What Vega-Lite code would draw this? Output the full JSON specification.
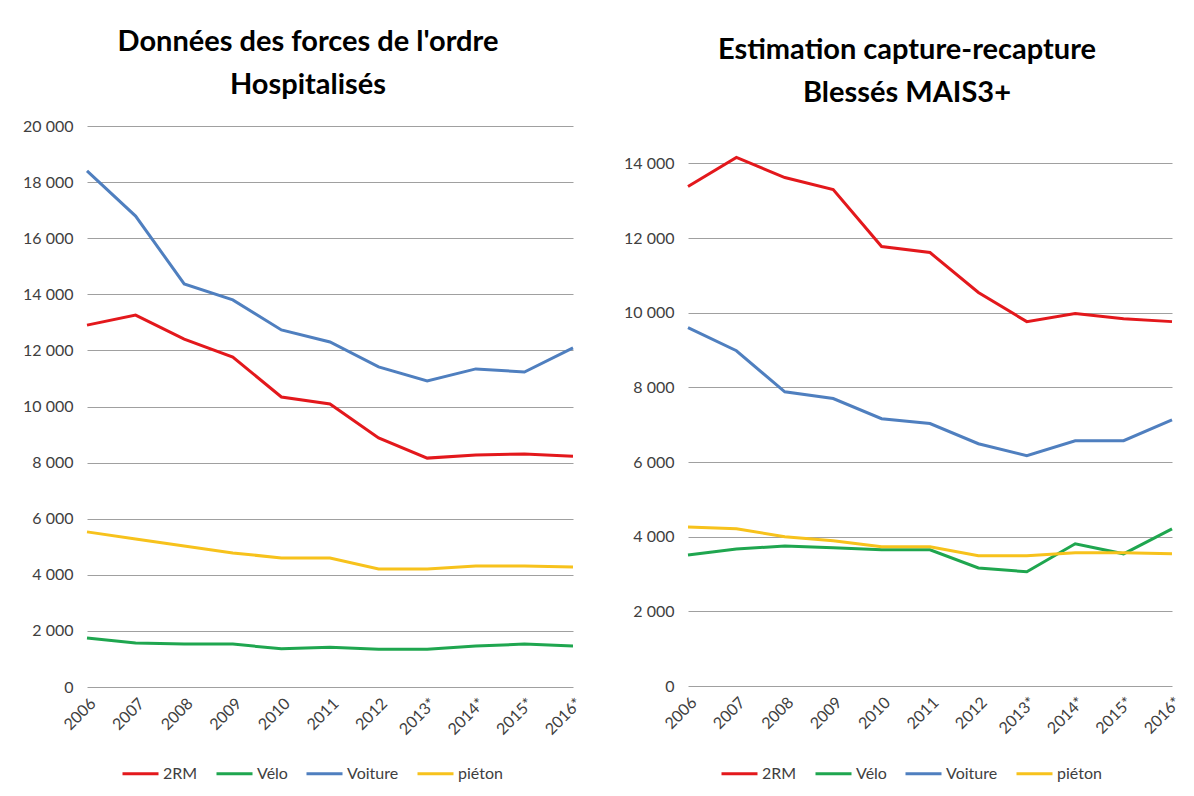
{
  "$schema": "https://vega.github.io/schema/vega-lite/v6.json",
  "background": "white",
  "padding": {"left": 22, "top": 28, "right": 5, "bottom": 5},
  "datasets": {
    "fo": [
      {"year": "2006", "mode": "2RM", "value": 12900}, {"year": "2007", "mode": "2RM", "value": 13260}, {"year": "2008", "mode": "2RM", "value": 12400}, {"year": "2009", "mode": "2RM", "value": 11760}, {"year": "2010", "mode": "2RM", "value": 10340}, {"year": "2011", "mode": "2RM", "value": 10090}, {"year": "2012", "mode": "2RM", "value": 8880}, {"year": "2013*", "mode": "2RM", "value": 8160}, {"year": "2014*", "mode": "2RM", "value": 8270}, {"year": "2015*", "mode": "2RM", "value": 8310}, {"year": "2016*", "mode": "2RM", "value": 8230},
      {"year": "2006", "mode": "Vélo", "value": 1750}, {"year": "2007", "mode": "Vélo", "value": 1570}, {"year": "2008", "mode": "Vélo", "value": 1530}, {"year": "2009", "mode": "Vélo", "value": 1530}, {"year": "2010", "mode": "Vélo", "value": 1360}, {"year": "2011", "mode": "Vélo", "value": 1420}, {"year": "2012", "mode": "Vélo", "value": 1350}, {"year": "2013*", "mode": "Vélo", "value": 1350}, {"year": "2014*", "mode": "Vélo", "value": 1460}, {"year": "2015*", "mode": "Vélo", "value": 1530}, {"year": "2016*", "mode": "Vélo", "value": 1460},
      {"year": "2006", "mode": "Voiture", "value": 18400}, {"year": "2007", "mode": "Voiture", "value": 16790}, {"year": "2008", "mode": "Voiture", "value": 14370}, {"year": "2009", "mode": "Voiture", "value": 13800}, {"year": "2010", "mode": "Voiture", "value": 12730}, {"year": "2011", "mode": "Voiture", "value": 12300}, {"year": "2012", "mode": "Voiture", "value": 11410}, {"year": "2013*", "mode": "Voiture", "value": 10910}, {"year": "2014*", "mode": "Voiture", "value": 11340}, {"year": "2015*", "mode": "Voiture", "value": 11230}, {"year": "2016*", "mode": "Voiture", "value": 12090},
      {"year": "2006", "mode": "piéton", "value": 5530}, {"year": "2007", "mode": "piéton", "value": 5280}, {"year": "2008", "mode": "piéton", "value": 5030}, {"year": "2009", "mode": "piéton", "value": 4780}, {"year": "2010", "mode": "piéton", "value": 4600}, {"year": "2011", "mode": "piéton", "value": 4600}, {"year": "2012", "mode": "piéton", "value": 4210}, {"year": "2013*", "mode": "piéton", "value": 4210}, {"year": "2014*", "mode": "piéton", "value": 4310}, {"year": "2015*", "mode": "piéton", "value": 4310}, {"year": "2016*", "mode": "piéton", "value": 4280}
    ],
    "cr": [
      {"year": "2006", "mode": "2RM", "value": 13380}, {"year": "2007", "mode": "2RM", "value": 14160}, {"year": "2008", "mode": "2RM", "value": 13620}, {"year": "2009", "mode": "2RM", "value": 13300}, {"year": "2010", "mode": "2RM", "value": 11770}, {"year": "2011", "mode": "2RM", "value": 11610}, {"year": "2012", "mode": "2RM", "value": 10540}, {"year": "2013*", "mode": "2RM", "value": 9760}, {"year": "2014*", "mode": "2RM", "value": 9980}, {"year": "2015*", "mode": "2RM", "value": 9840}, {"year": "2016*", "mode": "2RM", "value": 9760},
      {"year": "2006", "mode": "Vélo", "value": 3510}, {"year": "2007", "mode": "Vélo", "value": 3670}, {"year": "2008", "mode": "Vélo", "value": 3750}, {"year": "2009", "mode": "Vélo", "value": 3700}, {"year": "2010", "mode": "Vélo", "value": 3650}, {"year": "2011", "mode": "Vélo", "value": 3650}, {"year": "2012", "mode": "Vélo", "value": 3160}, {"year": "2013*", "mode": "Vélo", "value": 3060}, {"year": "2014*", "mode": "Vélo", "value": 3810}, {"year": "2015*", "mode": "Vélo", "value": 3540}, {"year": "2016*", "mode": "Vélo", "value": 4210},
      {"year": "2006", "mode": "Voiture", "value": 9600}, {"year": "2007", "mode": "Voiture", "value": 8980}, {"year": "2008", "mode": "Voiture", "value": 7880}, {"year": "2009", "mode": "Voiture", "value": 7700}, {"year": "2010", "mode": "Voiture", "value": 7160}, {"year": "2011", "mode": "Voiture", "value": 7030}, {"year": "2012", "mode": "Voiture", "value": 6490}, {"year": "2013*", "mode": "Voiture", "value": 6170}, {"year": "2014*", "mode": "Voiture", "value": 6570}, {"year": "2015*", "mode": "Voiture", "value": 6570}, {"year": "2016*", "mode": "Voiture", "value": 7130},
      {"year": "2006", "mode": "piéton", "value": 4260}, {"year": "2007", "mode": "piéton", "value": 4210}, {"year": "2008", "mode": "piéton", "value": 4000}, {"year": "2009", "mode": "piéton", "value": 3890}, {"year": "2010", "mode": "piéton", "value": 3730}, {"year": "2011", "mode": "piéton", "value": 3730}, {"year": "2012", "mode": "piéton", "value": 3490}, {"year": "2013*", "mode": "piéton", "value": 3490}, {"year": "2014*", "mode": "piéton", "value": 3570}, {"year": "2015*", "mode": "piéton", "value": 3570}, {"year": "2016*", "mode": "piéton", "value": 3540}
    ]
  },
  "spacing": 38,
  "resolve": {"legend": {"color": "independent"}, "scale": {"y": "independent"}},
  "hconcat": [
    {
      "data": {"name": "fo"},
      "width": 486,
      "height": 561,
      "title": {"text": ["Données des forces de l'ordre", "Hospitalisés"], "dx": -22},
      "mark": {"type": "line", "strokeWidth": 3, "clip": false},
      "encoding": {
        "x": {"field": "year", "type": "nominal", "sort": null, "scale": {"type": "point", "padding": 0}, "title": null},
        "y": {"field": "value", "type": "quantitative", "scale": {"domain": [0, 20000], "nice": false}, "axis": {"values": [0, 2000, 4000, 6000, 8000, 10000, 12000, 14000, 16000, 18000, 20000]}, "title": null},
        "color": {"field": "mode", "type": "nominal", "scale": {"domain": ["2RM", "Vélo", "Voiture", "piéton"], "range": ["#E3181C", "#1FA64F", "#4F7FBF", "#F7C21C"]}, "legend": {"orient": "none", "legendX": 34, "legendY": 628}}
      }
    },
    {
      "data": {"name": "cr"},
      "width": 484,
      "height": 560,
      "title": {"text": ["Estimation capture-recapture", "Blessés MAIS3+"], "dx": -23},
      "mark": {"type": "line", "strokeWidth": 3, "clip": false},
      "encoding": {
        "x": {"field": "year", "type": "nominal", "sort": null, "scale": {"type": "point", "padding": 0}, "title": null},
        "y": {"field": "value", "type": "quantitative", "scale": {"domain": [0, 15000], "nice": false}, "axis": {"values": [0, 2000, 4000, 6000, 8000, 10000, 12000, 14000]}, "title": null},
        "color": {"field": "mode", "type": "nominal", "scale": {"domain": ["2RM", "Vélo", "Voiture", "piéton"], "range": ["#E3181C", "#1FA64F", "#4F7FBF", "#F7C21C"]}, "legend": {"orient": "none", "legendX": 32, "legendY": 628}}
      }
    }
  ],
  "config": {
    "font": "Lato",
    "view": {"stroke": null},
    "title": {"font": "Lato", "fontSize": 29, "fontWeight": "bold", "color": "#000000", "lineHeight": 43, "anchor": "middle", "frame": "group", "offset": 18},
    "axis": {"domain": false, "ticks": false, "gridColor": "#A0A0A0", "gridWidth": 1, "labelFont": "Lato", "labelColor": "#404040", "labelFontSize": 16},
    "axisY": {"labelPadding": 14, "labelExpr": "replace(format(datum.value, ','), ',', ' ')"},
    "axisX": {"grid": false, "labelAngle": -45, "labelPadding": 8},
    "legend": {"direction": "horizontal", "title": null, "symbolType": "stroke", "symbolSize": 1296, "symbolStrokeWidth": 3, "labelFont": "Lato", "labelFontSize": 16, "labelColor": "#404040", "labelOffset": 3, "columnPadding": 12}
  }
}
